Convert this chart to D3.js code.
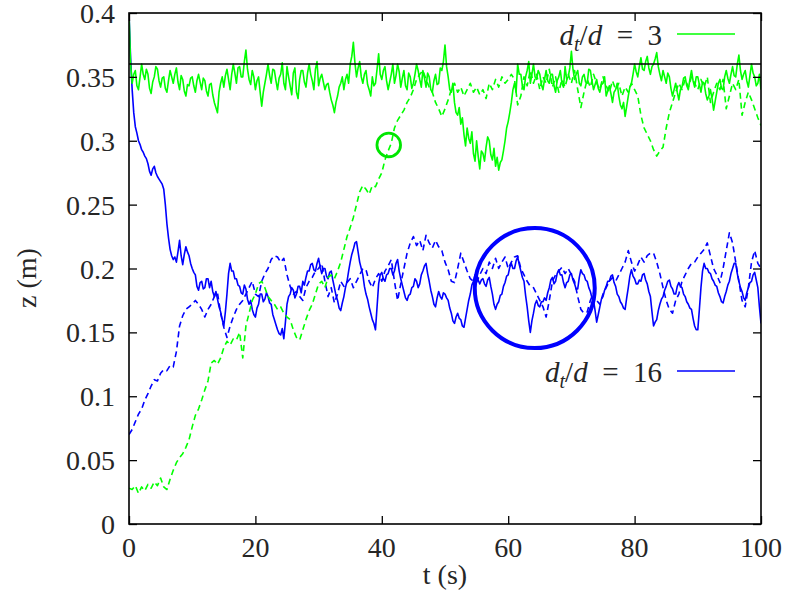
<!DOCTYPE html>
<html><head><meta charset="utf-8">
<script src="https://cdn.jsdelivr.net/npm/d3@7"></script>
</head>
<body style="margin:0;background:#fff;font-family:'Liberation Serif',serif;">
<svg id="chart" width="789" height="599" font-family="Liberation Serif" style="font-family:'Liberation Serif',serif"></svg>
<script>
// sampling steps (s)
const solidStep = 0.25;
const dashedStep = 0.5;
const xTicks = [0, 20, 40, 60, 80, 100];
const yTicks = [0, 0.05, 0.1, 0.15, 0.2, 0.25, 0.3, 0.35, 0.4];
const refLevel = 0.36;
const legendLabels = ["3", "16"];

// d_t/d = 3, solid (0.25 s step)
const greenSolid = [
0.400,0.360,0.345,0.352,0.355,0.343,0.340,0.350,0.360,0.352,0.348,0.356,0.352,0.341,0.337,0.346,0.350,0.358,0.356,0.347,
0.342,0.349,0.350,0.341,0.338,0.347,0.355,0.350,0.345,0.352,0.357,0.346,0.340,0.351,0.348,0.339,0.335,0.344,0.343,0.349,
0.350,0.343,0.338,0.347,0.352,0.346,0.340,0.349,0.347,0.339,0.335,0.344,0.345,0.336,0.330,0.326,0.322,0.338,0.345,0.350,
0.342,0.351,0.356,0.348,0.340,0.352,0.360,0.353,0.345,0.357,0.358,0.350,0.350,0.362,0.371,0.356,0.348,0.344,0.355,0.350,
0.340,0.347,0.350,0.338,0.327,0.338,0.345,0.352,0.360,0.351,0.345,0.356,0.355,0.347,0.340,0.349,0.352,0.361,0.345,0.340,
0.358,0.350,0.343,0.336,0.353,0.357,0.338,0.333,0.348,0.355,0.355,0.346,0.342,0.353,0.360,0.352,0.347,0.340,0.356,0.362,
0.343,0.349,0.352,0.346,0.340,0.344,0.345,0.338,0.332,0.328,0.322,0.330,0.335,0.342,0.345,0.350,0.340,0.348,0.352,0.345,
0.360,0.366,0.377,0.361,0.350,0.357,0.362,0.350,0.345,0.352,0.355,0.344,0.340,0.335,0.350,0.343,0.345,0.356,0.368,0.352,
0.348,0.355,0.358,0.347,0.340,0.346,0.352,0.360,0.345,0.351,0.360,0.354,0.342,0.349,0.355,0.343,0.340,0.353,0.350,0.341,
0.345,0.352,0.360,0.355,0.348,0.342,0.355,0.349,0.342,0.353,0.350,0.340,0.338,0.347,0.352,0.344,0.345,0.357,0.355,0.362,
0.375,0.358,0.350,0.340,0.338,0.345,0.330,0.322,0.320,0.326,0.313,0.318,0.305,0.296,0.310,0.302,0.298,0.307,0.290,0.284,
0.300,0.288,0.278,0.292,0.290,0.284,0.295,0.303,0.300,0.289,0.285,0.294,0.280,0.287,0.277,0.283,0.285,0.292,0.300,0.310,
0.315,0.322,0.330,0.340,0.345,0.338,0.360,0.352,0.352,0.343,0.340,0.350,0.355,0.362,0.345,0.352,0.360,0.350,0.348,0.355,
0.352,0.344,0.340,0.348,0.355,0.347,0.345,0.352,0.352,0.343,0.338,0.347,0.350,0.355,0.345,0.342,0.358,0.348,0.350,0.357,
0.370,0.356,0.348,0.352,0.355,0.345,0.343,0.350,0.352,0.346,0.345,0.356,0.355,0.347,0.340,0.344,0.348,0.341,0.338,0.344,
0.345,0.350,0.335,0.339,0.343,0.337,0.330,0.338,0.340,0.345,0.335,0.328,0.325,0.330,0.319,0.327,0.335,0.342,0.345,0.352,
0.360,0.354,0.350,0.358,0.365,0.356,0.355,0.362,0.366,0.357,0.352,0.358,0.360,0.364,0.369,0.358,0.352,0.347,0.355,0.350,
0.345,0.353,0.350,0.341,0.335,0.340,0.345,0.338,0.332,0.340,0.342,0.349,0.350,0.343,0.340,0.348,0.355,0.347,0.342,0.350,
0.350,0.344,0.338,0.346,0.345,0.337,0.332,0.335,0.340,0.333,0.324,0.331,0.338,0.345,0.348,0.341,0.340,0.350,0.355,0.349,
0.345,0.352,0.358,0.351,0.350,0.360,0.367,0.355,0.348,0.352,0.355,0.347,0.342,0.351,0.360,0.353,0.350,0.343,0.345,0.352,
0.340];

// d_t/d = 3, dashed (0.5 s step)
const greenDashed = [
0.028,0.027,0.030,0.024,0.029,0.026,0.031,0.028,0.033,0.030,0.036,0.029,0.027,0.035,0.042,0.048,0.052,0.055,0.060,0.066,
0.076,0.085,0.090,0.097,0.105,0.112,0.126,0.128,0.125,0.130,0.138,0.143,0.140,0.145,0.144,0.150,0.130,0.155,0.165,0.175,
0.180,0.188,0.190,0.185,0.178,0.175,0.172,0.168,0.170,0.165,0.162,0.160,0.152,0.146,0.144,0.152,0.160,0.167,0.172,0.180,
0.188,0.190,0.185,0.193,0.195,0.192,0.198,0.205,0.215,0.225,0.232,0.240,0.250,0.260,0.265,0.262,0.258,0.265,0.264,0.270,
0.275,0.285,0.292,0.298,0.310,0.316,0.320,0.324,0.330,0.334,0.340,0.348,0.352,0.355,0.348,0.342,0.338,0.330,0.325,0.319,
0.325,0.332,0.340,0.345,0.338,0.342,0.335,0.340,0.345,0.338,0.342,0.336,0.340,0.333,0.345,0.340,0.348,0.342,0.350,0.345,
0.348,0.352,0.348,0.328,0.335,0.350,0.343,0.355,0.345,0.352,0.340,0.350,0.345,0.356,0.342,0.350,0.338,0.348,0.342,0.352,
0.345,0.355,0.340,0.326,0.338,0.348,0.342,0.352,0.345,0.340,0.350,0.343,0.338,0.347,0.340,0.345,0.335,0.342,0.338,0.345,
0.340,0.335,0.320,0.310,0.305,0.300,0.293,0.288,0.292,0.295,0.310,0.322,0.330,0.338,0.345,0.340,0.348,0.342,0.350,0.345,
0.340,0.348,0.342,0.350,0.330,0.338,0.345,0.340,0.348,0.325,0.335,0.345,0.340,0.348,0.320,0.330,0.338,0.332,0.325,0.318,
0.312];

// d_t/d = 16, solid (0.25 s step)
const blueSolid = [
0.400,0.365,0.340,0.322,0.311,0.306,0.300,0.297,0.293,0.291,0.288,0.286,0.282,0.276,0.273,0.278,0.280,0.275,0.272,0.270,
0.268,0.266,0.262,0.250,0.235,0.224,0.215,0.210,0.207,0.209,0.205,0.213,0.222,0.210,0.203,0.211,0.217,0.213,0.210,0.204,
0.200,0.197,0.195,0.186,0.183,0.189,0.190,0.184,0.185,0.192,0.192,0.185,0.190,0.182,0.178,0.182,0.176,0.170,0.166,0.160,
0.155,0.166,0.180,0.196,0.204,0.198,0.198,0.192,0.192,0.187,0.186,0.181,0.180,0.187,0.184,0.176,0.172,0.175,0.168,0.164,
0.162,0.169,0.172,0.180,0.180,0.174,0.176,0.181,0.178,0.173,0.172,0.164,0.160,0.156,0.152,0.149,0.148,0.153,0.145,0.158,
0.172,0.178,0.180,0.185,0.183,0.177,0.180,0.186,0.186,0.181,0.190,0.187,0.193,0.198,0.198,0.203,0.204,0.199,0.198,0.204,
0.208,0.201,0.196,0.200,0.200,0.194,0.192,0.197,0.198,0.191,0.185,0.179,0.175,0.169,0.167,0.173,0.178,0.185,0.190,0.198,
0.205,0.211,0.215,0.220,0.221,0.213,0.205,0.200,0.195,0.186,0.180,0.176,0.170,0.165,0.160,0.157,0.152,0.170,0.188,0.195,
0.197,0.192,0.190,0.195,0.196,0.200,0.200,0.195,0.198,0.204,0.207,0.198,0.192,0.187,0.182,0.177,0.175,0.179,0.180,0.185,
0.186,0.192,0.190,0.185,0.188,0.195,0.198,0.202,0.204,0.196,0.190,0.183,0.178,0.172,0.170,0.177,0.182,0.178,0.176,0.181,
0.180,0.177,0.175,0.169,0.165,0.159,0.157,0.162,0.165,0.161,0.160,0.155,0.154,0.161,0.168,0.175,0.180,0.187,0.190,0.195,
0.196,0.191,0.188,0.191,0.192,0.188,0.186,0.191,0.193,0.186,0.180,0.172,0.168,0.172,0.174,0.179,0.180,0.186,0.189,0.194,
0.195,0.201,0.204,0.200,0.200,0.206,0.209,0.203,0.198,0.193,0.190,0.179,0.170,0.159,0.150,0.159,0.165,0.172,0.175,0.171,
0.170,0.174,0.174,0.177,0.175,0.181,0.185,0.191,0.193,0.188,0.190,0.196,0.199,0.195,0.195,0.189,0.185,0.189,0.190,0.195,
0.196,0.191,0.188,0.184,0.184,0.193,0.199,0.196,0.195,0.191,0.190,0.185,0.182,0.177,0.175,0.167,0.158,0.164,0.170,0.176,
0.178,0.183,0.186,0.190,0.190,0.194,0.195,0.189,0.186,0.180,0.178,0.174,0.172,0.169,0.168,0.177,0.185,0.194,0.199,0.194,
0.192,0.188,0.188,0.191,0.190,0.195,0.196,0.191,0.188,0.182,0.178,0.166,0.155,0.158,0.160,0.167,0.172,0.176,0.178,0.183,
0.186,0.190,0.191,0.186,0.184,0.180,0.180,0.186,0.189,0.186,0.185,0.180,0.178,0.174,0.172,0.169,0.168,0.161,0.155,0.152,
0.152,0.168,0.185,0.198,0.204,0.200,0.200,0.197,0.196,0.192,0.190,0.187,0.186,0.181,0.178,0.174,0.173,0.178,0.182,0.187,
0.190,0.196,0.200,0.204,0.204,0.196,0.190,0.185,0.182,0.177,0.175,0.181,0.185,0.189,0.190,0.195,0.197,0.191,0.185,0.170,
0.157];

// d_t/d = 16, dashed (0.5 s step)
const blueDashed = [
0.070,0.074,0.080,0.086,0.090,0.097,0.102,0.108,0.113,0.112,0.118,0.121,0.120,0.124,0.123,0.135,0.155,0.163,0.168,0.170,
0.172,0.175,0.172,0.168,0.162,0.168,0.172,0.178,0.181,0.165,0.154,0.146,0.155,0.162,0.168,0.172,0.175,0.180,0.185,0.190,
0.180,0.178,0.190,0.196,0.200,0.207,0.210,0.209,0.205,0.208,0.195,0.186,0.180,0.182,0.178,0.175,0.185,0.190,0.193,0.198,
0.200,0.204,0.190,0.178,0.185,0.173,0.180,0.190,0.186,0.189,0.192,0.185,0.190,0.195,0.200,0.199,0.190,0.185,0.192,0.196,
0.190,0.198,0.202,0.207,0.190,0.175,0.188,0.200,0.212,0.220,0.225,0.218,0.222,0.214,0.226,0.220,0.216,0.222,0.217,0.214,
0.205,0.199,0.190,0.189,0.200,0.212,0.205,0.198,0.192,0.190,0.189,0.195,0.200,0.196,0.205,0.200,0.208,0.200,0.205,0.209,
0.200,0.205,0.209,0.210,0.200,0.195,0.190,0.186,0.185,0.180,0.175,0.170,0.162,0.175,0.190,0.195,0.198,0.201,0.196,0.200,
0.195,0.190,0.178,0.168,0.165,0.166,0.175,0.181,0.175,0.172,0.180,0.185,0.190,0.193,0.190,0.195,0.200,0.205,0.214,0.205,
0.198,0.203,0.209,0.205,0.210,0.212,0.212,0.205,0.196,0.185,0.175,0.168,0.165,0.175,0.180,0.190,0.195,0.200,0.204,0.205,
0.209,0.212,0.215,0.220,0.210,0.200,0.195,0.189,0.200,0.214,0.228,0.220,0.205,0.190,0.175,0.170,0.185,0.205,0.214,0.204,
0.200];

// annotation circles (data coords of centres)
const markCircles = [
  {t: 41.1, z: 0.2967, r: 11.8, color: "#00e600", w: 2.8},
  {t: 64.2, z: 0.1847, r: 60, color: "#0000ff", w: 4}
];

const TXT = "#262626";
const m = {left: 129, right: 761, top: 13, bottom: 524};
const svg = d3.select("#chart");
const x = d3.scaleLinear().domain([0, 100]).range([m.left, m.right]);
const y = d3.scaleLinear().domain([0, 0.4]).range([m.bottom, m.top]);

svg.append("defs").append("clipPath").attr("id", "clip")
  .append("rect").attr("x", m.left).attr("y", m.top)
  .attr("width", m.right - m.left).attr("height", m.bottom - m.top);

const toPts = (arr, step) => arr.map((v, i) => [i * step, v]);
const line = d3.line().x(d => x(d[0])).y(d => y(d[1]));

const plot = svg.append("g").attr("clip-path", "url(#clip)");
const series = [
  {data: blueDashed, step: dashedStep, color: "#0000ff", dash: "6,4"},
  {data: blueSolid, step: solidStep, color: "#0000ff", dash: null},
  {data: greenDashed, step: dashedStep, color: "#00ff00", dash: "6,4"},
  {data: greenSolid, step: solidStep, color: "#00ff00", dash: null}
];
series.forEach(s => {
  plot.append("path").datum(toPts(s.data, s.step))
    .attr("d", line).attr("fill", "none")
    .attr("stroke", s.color).attr("stroke-width", 1.6)
    .attr("stroke-linejoin", "round")
    .attr("stroke-dasharray", s.dash);
});

// reference line
svg.append("line").attr("x1", x(0)).attr("x2", x(100))
  .attr("y1", y(refLevel)).attr("y2", y(refLevel))
  .attr("stroke", "#000").attr("stroke-width", 1.5);

// circles
markCircles.forEach(c => {
  svg.append("circle").attr("cx", x(c.t)).attr("cy", y(c.z)).attr("r", c.r)
    .attr("fill", "none").attr("stroke", c.color).attr("stroke-width", c.w);
});

// inward ticks on all four sides
const tl = 8;
const fmtY = d => d === 0 ? "0" : String(+d.toFixed(2));
const axB = d3.axisBottom(x).tickValues(xTicks).tickSize(-tl).tickFormat("");
const axT = d3.axisTop(x).tickValues(xTicks).tickSize(-tl).tickFormat("");
const axL = d3.axisLeft(y).tickValues(yTicks).tickSize(-tl).tickFormat("");
const axR = d3.axisRight(y).tickValues(yTicks).tickSize(-tl).tickFormat("");
function styleAxis(g) {
  g.attr("font-family", null).attr("font-size", null);
  g.select(".domain").remove();
  g.selectAll(".tick text").remove();
  g.selectAll(".tick line").attr("stroke", "#000").attr("stroke-width", 1.3);
}
svg.append("g").attr("transform", `translate(0,${m.bottom})`).call(axB).call(styleAxis);
svg.append("g").attr("transform", `translate(0,${m.top})`).call(axT).call(styleAxis);
svg.append("g").attr("transform", `translate(${m.left},0)`).call(axL).call(styleAxis);
svg.append("g").attr("transform", `translate(${m.right},0)`).call(axR).call(styleAxis);

// all text inherits the serif family set on the svg root
const labels = svg.append("g").attr("fill", TXT).attr("font-size", 28);
labels.selectAll("text.xl").data(xTicks).join("text").attr("class", "xl")
  .attr("x", d => x(d)).attr("y", m.bottom + 33).attr("text-anchor", "middle")
  .text(d => String(d));
labels.selectAll("text.yl").data(yTicks).join("text").attr("class", "yl")
  .attr("x", m.left - 14).attr("y", d => y(d) + 10).attr("text-anchor", "end")
  .text(fmtY);
labels.append("text").attr("x", (m.left + m.right) / 2).attr("y", 584)
  .attr("text-anchor", "middle").text("t (s)");
labels.append("text").attr("transform", "translate(36,278) rotate(-90)")
  .attr("text-anchor", "middle").text("z (m)");

// frame
svg.append("rect").attr("x", m.left).attr("y", m.top)
  .attr("width", m.right - m.left).attr("height", m.bottom - m.top)
  .attr("fill", "none").attr("stroke", "#000").attr("stroke-width", 1.6);

// legend
const legend = [
  {label: legendLabels[0], color: "#00ff00", ty: 45, ly: 34},
  {label: legendLabels[1], color: "#0000ff", ty: 382, ly: 371}
];
legend.forEach(l => {
  const t = svg.append("text").attr("fill", TXT).attr("font-size", 29)
    .attr("x", 662).attr("y", l.ty).attr("text-anchor", "end");
  t.append("tspan").attr("font-style", "italic").text("d");
  t.append("tspan").attr("font-style", "italic").attr("font-size", 20).attr("dy", 6).text("t");
  t.append("tspan").attr("dy", -6).text("/");
  t.append("tspan").attr("font-style", "italic").text("d");
  t.append("tspan").text("\u2002=\u2002" + l.label);
  svg.append("line").attr("x1", 677).attr("x2", 735).attr("y1", l.ly).attr("y2", l.ly)
    .attr("stroke", l.color).attr("stroke-width", 1.5);
});
</script></body></html>
